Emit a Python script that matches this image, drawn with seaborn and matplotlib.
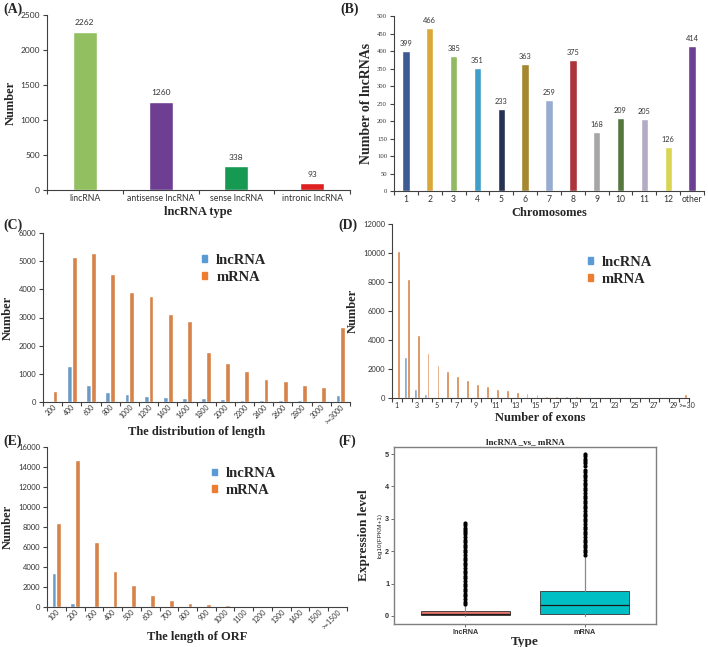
import numpy as np
import pandas as pd
import matplotlib
matplotlib.use('Agg')
import matplotlib.pyplot as plt
import matplotlib.transforms as mtrans
import seaborn as sns
from matplotlib.patches import Patch

# (A) lncRNA types
type_names = ['lincRNA', 'antisense lncRNA', 'sense lncRNA', 'intronic lncRNA']
type_counts = [2262, 1260, 338, 93]
type_colors = ['#92D050', '#7030A0', '#00B050', '#FF0000']

# (B) lncRNAs per chromosome
chrom_names = ['1', '2', '3', '4', '5', '6', '7', '8', '9', '10', '11', '12', 'other']
chrom_counts = [399, 466, 385, 351, 233, 363, 259, 375, 168, 209, 205, 126, 414]
chrom_colors = ['#2F55A4', '#F5B21C', '#92C954', '#29A8E0', '#1F2D5A', '#B8901E', '#8EA9DB',
                '#C0202A', '#A6A6A6', '#548235', '#B4A7C9', '#F0E93A', '#7030A0']

# (C) length distribution
len_bins = ['200', '400', '600', '800', '1000', '1200', '1400', '1600', '1800', '2000',
            '2200', '2400', '2600', '2800', '3000', '>=3000']
len_lnc = [0, 1270, 600, 340, 280, 210, 170, 130, 130, 100, 80, 70, 60, 60, 40, 250]
len_mrna = [380, 5150, 5280, 4530, 3900, 3770, 3130, 2870, 1770, 1390, 1100, 820, 730, 610, 530, 2680]

# (D) number of exons
exon_bins = ['1', '2', '3', '4', '5', '6', '7', '8', '9', '10', '11', '12', '13', '14', '15',
             '16', '17', '18', '19', '20', '21', '22', '23', '24', '25', '26', '27', '28', '29', '>=30']
exon_lnc = [0, 2800, 620, 260, 100, 40, 20, 10, 5, 5, 0, 0, 0, 0, 0,
            0, 0, 0, 0, 0, 0, 0, 0, 0, 0, 0, 0, 0, 0, 0]
exon_mrna = [10150, 8200, 4350, 3100, 2270, 1870, 1500, 1230, 950, 830, 650, 580, 430, 360, 250,
             170, 160, 140, 120, 90, 80, 70, 50, 40, 30, 25, 20, 15, 15, 300]

# (E) ORF length
orf_bins = ['100', '200', '300', '400', '500', '600', '700', '800', '900', '1000',
            '1100', '1200', '1300', '1400', '1500', '>=1500']
orf_lnc = [3420, 430, 0, 0, 0, 0, 0, 0, 0, 0, 0, 0, 0, 0, 0, 0]
orf_mrna = [8450, 14700, 6480, 3650, 2200, 1200, 680, 420, 280, 180, 80, 40, 20, 10, 5, 5]

# (F) expression boxplot summary (log10(FPKM+1))
box_types = ['lncRNA', 'mRNA']
box_q1 = [0.02, 0.05]
box_med = [0.07, 0.33]
box_q3 = [0.15, 0.78]
box_lo = [0.0, 0.0]
box_hi = [0.33, 1.85]
lnc_fliers = [0.36, 0.44, 0.52, 0.60, 0.68, 0.76, 0.84, 0.92, 1.00, 1.08, 1.16, 1.24, 1.32,
              1.40, 1.48, 1.56, 1.64, 1.72, 1.80, 1.88, 1.96, 2.04, 2.12, 2.20, 2.28, 2.36,
              2.44, 2.52, 2.60, 2.66, 2.72, 2.80, 2.88]
mrna_fliers = [1.88, 1.96, 2.04, 2.12, 2.20, 2.28, 2.36, 2.44, 2.52, 2.60, 2.68, 2.76, 2.84,
               2.92, 3.00, 3.08, 3.16, 3.24, 3.32, 3.40, 3.48, 3.56, 3.64, 3.72, 3.80, 3.88,
               3.96, 4.04, 4.12, 4.20, 4.28, 4.36, 4.44, 4.50, 4.62, 4.72, 4.78, 4.86, 4.93, 5.00]
box_colors = ['#E8736B', '#00BFC4']

LNC_COL = '#5B9BD5'
MRNA_COL = '#ED7D31'
SERIF = 'Liberation Serif'
SANS = 'Lato'
AXC = '#404040'

sns.set_style('ticks')
plt.rcParams['font.family'] = ['DejaVu Sans']

W, H = 708, 647
fig = plt.figure(figsize=(W / 100, H / 100), dpi=100)


def px_axes(l, t, r, b):
    return fig.add_axes([l / W, 1 - b / H, (r - l) / W, (b - t) / H])


def excel_axes(ax, n, ylabel, xlabel, yfont=SANS, ysize=5.5, xsize=5.5, xpad=2):
    sns.despine(ax=ax)
    for s in ['left', 'bottom']:
        ax.spines[s].set_color(AXC)
        ax.spines[s].set_linewidth(0.8)
    ax.set_xlim(-0.5, n - 0.5)
    ax.set_xticks(np.arange(n + 1) - 0.5, minor=True)
    ax.tick_params(axis='x', which='major', length=0, pad=3)
    ax.tick_params(axis='x', which='minor', length=3, width=0.8, color=AXC)
    ax.tick_params(axis='y', length=3, width=0.8, color=AXC, pad=2)
    for lab in ax.get_yticklabels():
        lab.set_fontfamily(yfont)
        lab.set_fontsize(ysize)
        lab.set_color('#333333')
    for lab in ax.get_xticklabels():
        lab.set_fontfamily(SANS)
        lab.set_fontsize(xsize)
        lab.set_color('#333333')
    ax.set_ylabel(ylabel, fontfamily=SERIF, fontweight='bold', fontsize=9, labelpad=3)
    ax.set_xlabel(xlabel, fontfamily=SERIF, fontweight='bold', fontsize=9, labelpad=xpad)


def pair_legend(ax, x, y):
    handles = [Patch(color=LNC_COL, label='lncRNA'), Patch(color=MRNA_COL, label='mRNA')]
    ax.legend(handles=handles, frameon=False, loc='upper left', bbox_to_anchor=(x, y),
              prop=dict(family=SERIF, weight='bold', size=10.5), handlelength=0.35,
              handleheight=0.35, handletextpad=0.6, labelspacing=0.25, borderaxespad=0)


def pair_df(bins, lnc, mrna):
    return pd.DataFrame({'bin': bins + bins,
                         'type': ['lncRNA'] * len(bins) + ['mRNA'] * len(bins),
                         'count': lnc + mrna})


# ---- (A)
axA = px_axes(47, 15, 350, 190)
sns.barplot(x=type_names, y=type_counts, hue=type_names, palette=type_colors, legend=False,
            width=0.32, errorbar=None, ax=axA)
for c in axA.containers:
    axA.bar_label(c, padding=4, fontsize=6, fontfamily=SANS, color='#333333')
axA.set_ylim(0, 2500)
axA.set_yticks([0, 500, 1000, 1500, 2000, 2500])
excel_axes(axA, len(type_names), 'Number', 'lncRNA type', ysize=6, xsize=6.3)

# ---- (B)
axB = px_axes(394, 16, 704, 191)
sns.barplot(x=chrom_names, y=chrom_counts, hue=chrom_names, palette=chrom_colors, legend=False,
            width=0.31, errorbar=None, ax=axB)
for c in axB.containers:
    axB.bar_label(c, padding=3, fontsize=5.3, fontfamily=SANS, color='#333333')
axB.set_ylim(0, 500)
axB.set_yticks(list(range(0, 501, 50)))
excel_axes(axB, len(chrom_names), 'Number of lncRNAs', 'Chromosomes', yfont=SERIF, ysize=4.8, xsize=6.2)
axB.yaxis.label.set_fontsize(10)

# ---- (C)
axC = px_axes(43, 233, 350, 402)
sns.barplot(data=pair_df(len_bins, len_lnc, len_mrna), x='bin', y='count', hue='type',
            palette=[LNC_COL, MRNA_COL], width=0.5, gap=0, errorbar=None, ax=axC)
axC.set_ylim(0, 6000)
axC.set_yticks([0, 1000, 2000, 3000, 4000, 5000, 6000])
excel_axes(axC, len(len_bins), 'Number', 'The distribution of length', xsize=5, xpad=0)
plt.setp(axC.get_xticklabels(), rotation=45, ha='right', rotation_mode='anchor')
axC.tick_params(axis='x', which='major', pad=1)
pair_legend(axC, 0.50, 0.91)

# ---- (D)
axD = px_axes(392, 224, 689, 398)
sns.barplot(data=pair_df(exon_bins, exon_lnc, exon_mrna), x='bin', y='count', hue='type',
            palette=[LNC_COL, MRNA_COL], width=0.56, gap=0, errorbar=None, ax=axD)
axD.set_ylim(0, 12000)
axD.set_yticks([0, 2000, 4000, 6000, 8000, 10000, 12000])
axD.set_xticks(range(len(exon_bins)))
axD.set_xticklabels([b if (i % 2 == 0 or i == len(exon_bins) - 1) else ''
                     for i, b in enumerate(exon_bins)])
excel_axes(axD, len(exon_bins), 'Number', 'Number of exons', xsize=5.2)
# nudge the last label right a little so it clears "29"
last = axD.get_xticklabels()[-1]
last.set_transform(last.get_transform() + mtrans.ScaledTranslation(3 / 100, 0, fig.dpi_scale_trans))
pair_legend(axD, 0.64, 0.85)

# ---- (E)
axE = px_axes(47, 447, 347, 607)
sns.barplot(data=pair_df(orf_bins, orf_lnc, orf_mrna), x='bin', y='count', hue='type',
            palette=[LNC_COL, MRNA_COL], width=0.5, gap=0, errorbar=None, ax=axE)
axE.set_ylim(0, 16000)
axE.set_yticks(list(range(0, 16001, 2000)))
excel_axes(axE, len(orf_bins), 'Number', 'The length of ORF', xsize=5, xpad=0)
plt.setp(axE.get_xticklabels(), rotation=45, ha='right', rotation_mode='anchor')
axE.tick_params(axis='x', which='major', pad=1)
pair_legend(axE, 0.53, 0.91)

# ---- (F)
axF = px_axes(394, 447, 656, 624)
stats = []
for i, t in enumerate(box_types):
    stats.append(dict(label=t, q1=box_q1[i], med=box_med[i], q3=box_q3[i],
                      whislo=box_lo[i], whishi=box_hi[i],
                      fliers=[lnc_fliers, mrna_fliers][i]))
bp = axF.bxp(stats, positions=[1, 2], widths=0.75, patch_artist=True, showcaps=False,
             boxprops=dict(edgecolor='#333333', linewidth=0.6),
             medianprops=dict(color='#1a1a1a', linewidth=0.9),
             whiskerprops=dict(color='#8a8a8a', linewidth=0.9),
             flierprops=dict(marker='o', markerfacecolor='black', markeredgecolor='black',
                             markersize=2.0, linestyle='none'))
for patch, col in zip(bp['boxes'], box_colors):
    patch.set_facecolor(col)
axF.set_xlim(0.4, 2.6)
axF.set_ylim(-0.25, 5.22)
axF.set_yticks([0, 1, 2, 3, 4, 5])
for s in axF.spines.values():
    s.set_color('#7f7f7f')
    s.set_linewidth(1.0)
axF.tick_params(length=2, width=0.6, color='#555555', pad=1.5)
for lab in axF.get_xticklabels() + axF.get_yticklabels():
    lab.set_fontfamily('Liberation Sans')
    lab.set_fontweight('bold')
    lab.set_fontsize(5.2)
    lab.set_color('#333333')
axF.set_title('lncRNA _vs_ mRNA', fontfamily=SERIF, fontweight='bold', fontsize=6.5, pad=2)
axF.set_ylabel('log10(FPKM+1)', fontfamily='Liberation Sans', fontsize=4.6, labelpad=2)
axF.text(-0.115, 0.5, 'Expression level', transform=axF.transAxes, rotation=90,
         ha='center', va='center', fontfamily=SERIF, fontweight='bold', fontsize=9.5)
axF.set_xlabel('Type', fontfamily=SERIF, fontweight='bold', fontsize=9.5, labelpad=0)

# panel letters
for letter, x, y in [('(A)', 3, 3), ('(B)', 340, 3), ('(C)', 3, 219),
                     ('(D)', 338, 219), ('(E)', 3, 435), ('(F)', 338, 435)]:
    fig.text(x / W, 1 - y / H, letter, ha='left', va='top', fontfamily=SERIF,
             fontweight='bold', fontsize=10)

fig.savefig('out.png', dpi=100)
